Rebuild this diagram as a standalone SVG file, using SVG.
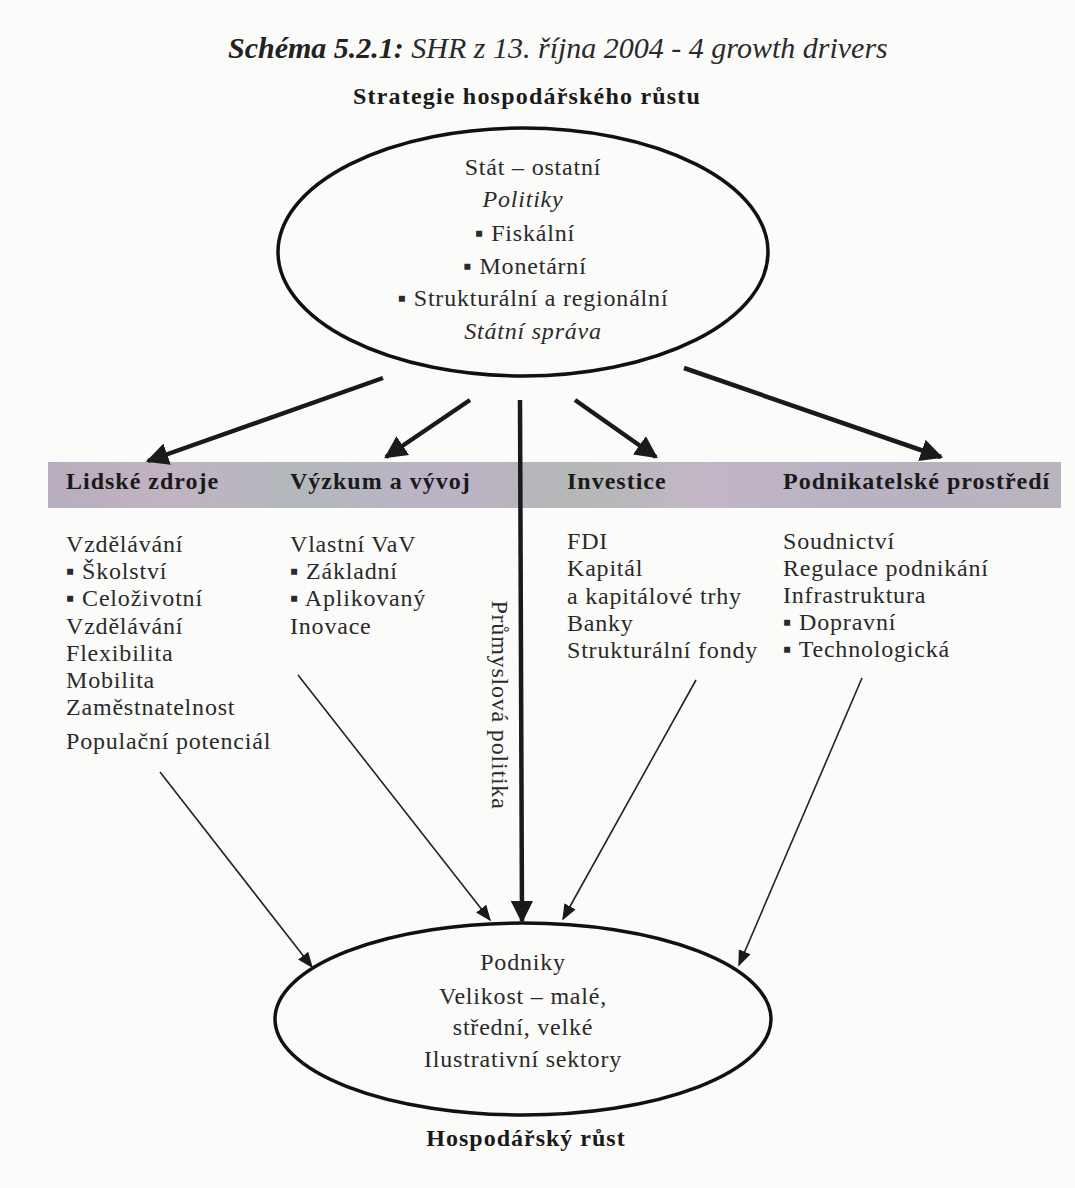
<svg xmlns="http://www.w3.org/2000/svg" width="1075" height="1188" viewBox="0 0 1075 1188">
<defs>
<style>
text{font-family:"Liberation Serif","DejaVu Serif",serif;fill:#2a2a2a;}
.t{font-size:24px;letter-spacing:0.8px;}
.c{text-anchor:middle;}
.i{font-style:italic;}
.b{font-weight:bold;fill:#1a1a1a;}
.h{font-size:24px;letter-spacing:1px;font-weight:bold;fill:#1a1a1a;}
.thick{stroke:#1a1a1a;stroke-width:4.5;fill:none;}
.thin{stroke:#222;stroke-width:1.6;fill:none;}
.ell{stroke:#111;stroke-width:3.5;fill:none;}
</style>
<linearGradient id="bar" x1="0" y1="0" x2="1" y2="0">
<stop offset="0" stop-color="#b7aebd"/>
<stop offset="0.12" stop-color="#c2b3c2"/>
<stop offset="0.25" stop-color="#b2b8bc"/>
<stop offset="0.4" stop-color="#bdb2c6"/>
<stop offset="0.52" stop-color="#b4b8b6"/>
<stop offset="0.65" stop-color="#c3b6c6"/>
<stop offset="0.8" stop-color="#b8b2c2"/>
<stop offset="1" stop-color="#b9b4bd"/>
</linearGradient>
<marker id="ah" viewBox="0 0 10 10" refX="9" refY="5" markerWidth="5" markerHeight="5" markerUnits="strokeWidth" orient="auto">
<path d="M0,0 L10,5 L0,10 z" fill="#1a1a1a"/>
</marker>
<marker id="ahs" viewBox="0 0 10 10" refX="9" refY="5" markerWidth="10" markerHeight="10" markerUnits="strokeWidth" orient="auto">
<path d="M0,1 L10,5 L0,9 z" fill="#1a1a1a"/>
</marker>
</defs>
<rect width="1075" height="1188" fill="#fbfbf9"/>

<g id="title">
<text x="228" y="58" font-size="30" class="i"><tspan font-weight="bold" fill="#222">Schéma 5.2.1:</tspan> SHR z 13. října 2004 - 4 growth drivers</text>
<text x="527" y="104" font-size="24" letter-spacing="1.2" class="b c">Strategie hospodářského růstu</text>
</g>

<g id="bar">
<rect x="48" y="462" width="1013" height="46" fill="url(#bar)"/>
</g>

<g id="connectors">
<line class="thick" x1="383" y1="378" x2="148" y2="461" marker-end="url(#ah)"/>
<line class="thick" x1="470" y1="400" x2="386" y2="457" marker-end="url(#ah)"/>
<line class="thick" x1="520" y1="400" x2="522" y2="921" marker-end="url(#ah)"/>
<line class="thick" x1="575" y1="400" x2="656" y2="457" marker-end="url(#ah)"/>
<line class="thick" x1="684" y1="368" x2="941" y2="457" marker-end="url(#ah)"/>
<line class="thin" x1="160" y1="772" x2="312" y2="967" marker-end="url(#ahs)"/>
<line class="thin" x1="298" y1="675" x2="490" y2="920" marker-end="url(#ahs)"/>
<line class="thin" x1="696" y1="680" x2="563" y2="919" marker-end="url(#ahs)"/>
<line class="thin" x1="862" y1="678" x2="739" y2="965" marker-end="url(#ahs)"/>
</g>

<g id="stat">
<ellipse class="ell" cx="523" cy="252" rx="245" ry="124" fill="#fbfbf9"/>
<text class="t c" x="533" y="175">Stát – ostatní</text>
<text class="t c i" x="523" y="207">Politiky</text>
<text class="t c" x="525" y="241">▪ Fiskální</text>
<text class="t c" x="525" y="274">▪ Monetární</text>
<text class="t c" x="533" y="306">▪ Strukturální a regionální</text>
<text class="t c i" x="533" y="339">Státní správa</text>
</g>

<g id="lidske-zdroje">
<text class="h" x="66" y="489">Lidské zdroje</text>
<text class="t" x="66" y="552">Vzdělávání</text>
<text class="t" x="66" y="579">▪ Školství</text>
<text class="t" x="66" y="606">▪ Celoživotní</text>
<text class="t" x="66" y="634">Vzdělávání</text>
<text class="t" x="66" y="661">Flexibilita</text>
<text class="t" x="66" y="688">Mobilita</text>
<text class="t" x="66" y="715">Zaměstnatelnost</text>
<text class="t" x="66" y="749">Populační potenciál</text>
</g>

<g id="vyzkum">
<text class="h" x="290" y="489">Výzkum a vývoj</text>
<text class="t" x="290" y="552">Vlastní VaV</text>
<text class="t" x="290" y="579">▪ Základní</text>
<text class="t" x="290" y="606">▪ Aplikovaný</text>
<text class="t" x="290" y="634">Inovace</text>
</g>

<g id="investice">
<text class="h" x="567" y="489">Investice</text>
<text class="t" x="567" y="549">FDI</text>
<text class="t" x="567" y="576">Kapitál</text>
<text class="t" x="567" y="604">a kapitálové trhy</text>
<text class="t" x="567" y="631">Banky</text>
<text class="t" x="567" y="658">Strukturální fondy</text>
</g>

<g id="podnikatelske">
<text class="h" x="783" y="489">Podnikatelské prostředí</text>
<text class="t" x="783" y="549">Soudnictví</text>
<text class="t" x="783" y="576">Regulace podnikání</text>
<text class="t" x="783" y="603">Infrastruktura</text>
<text class="t" x="783" y="630">▪ Dopravní</text>
<text class="t" x="783" y="657">▪ Technologická</text>
</g>

<g id="prumyslova">
<text class="t c" transform="translate(492,705) rotate(90)">Průmyslová politika</text>
</g>

<g id="podniky">
<ellipse class="ell" cx="523" cy="1019" rx="248" ry="96"/>
<text class="t c" x="523" y="970">Podniky</text>
<text class="t c" x="523" y="1004">Velikost – malé,</text>
<text class="t c" x="523" y="1035">střední, velké</text>
<text class="t c" x="523" y="1067">Ilustrativní sektory</text>
</g>

<g id="rust">
<text x="526" y="1146" font-size="24" letter-spacing="1" class="b c">Hospodářský růst</text>
</g>
</svg>
